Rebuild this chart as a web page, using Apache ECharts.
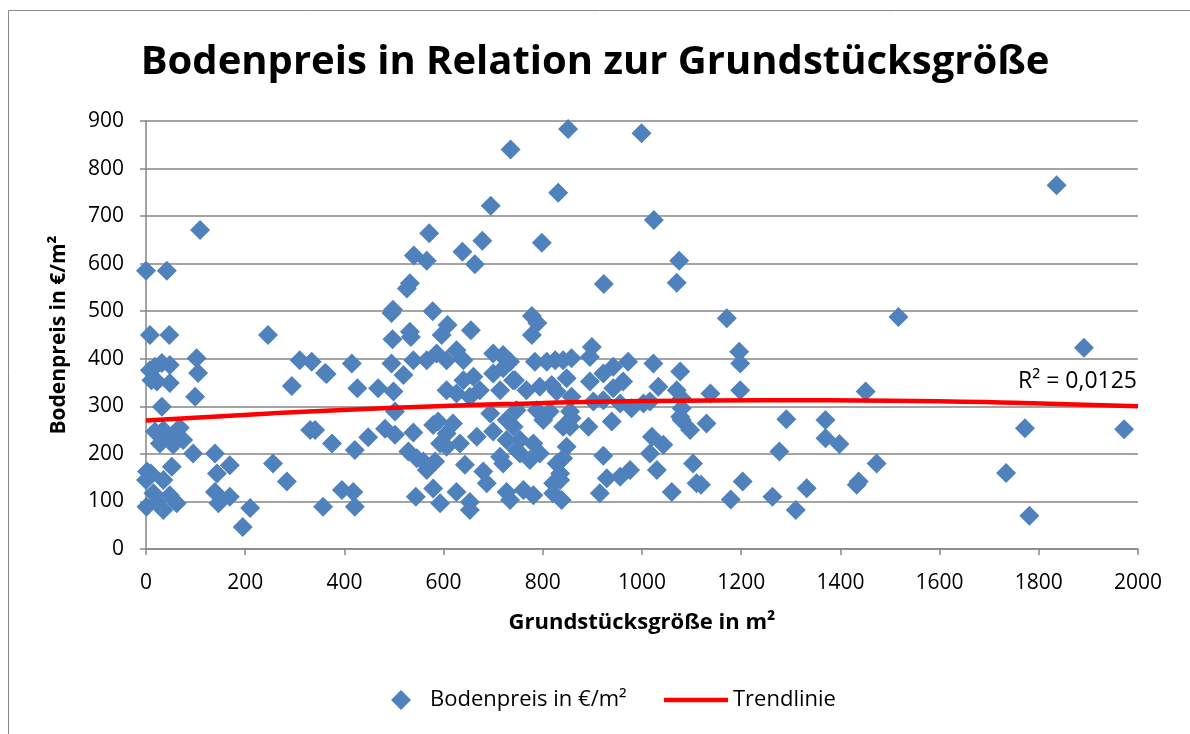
<!DOCTYPE html>
<html><head><meta charset="utf-8">
<script src="https://cdn.jsdelivr.net/npm/echarts@6/dist/echarts.min.js"></script>
<style>html,body{margin:0;padding:0;background:#fff}#c{width:1190px;height:734px}</style>
</head><body><div id="c"></div>
<script>
const TITLE = 'Bodenpreis in Relation zur Grundstücksgröße';
const X_NAME = 'Grundstücksgröße in m²';
const Y_NAME = 'Bodenpreis in €/m²';
const SERIES_NAME = 'Bodenpreis in €/m²';
const TREND_NAME = 'Trendlinie';
const R2_TEXT = 'R² = 0,0125';

const sizes = [
 8,47,246,18,32,48,8,102,105,22,48,11,99,32,310,334,294,361,331,341,375,18,35,68,52,28,55,75,
 95,139,169,143,256,284,0,2,10,52,35,1,22,35,62,48,15,139,146,169,210,195,357,109,0,42,
 735,695,571,678,540,566,638,663,532,526,495,498,578,608,655,532,
 596,497,534,364,415,426,468,499,495,519,539,566,586,606,626,640,606,626,502,589,640,660,673,653,700,727,740,700,714,694,727,747,
 421,448,482,502,539,529,546,566,583,559,579,606,619,593,633,606,643,680,687,667,700,727,714,720,747,727,734,395,418,421,544,579,593,626,653,653,
 851,999,831,1024,798,1075,923,1070,778,789,
 778,720,734,720,784,808,825,841,858,899,895,972,1023,1077,848,744,895,922,942,962,942,1033,1070,767,794,818,828,
 858,902,922,956,979,1003,1016,1080,1077,1097,741,788,801,814,855,858,841,855,892,939,1020,1043,1016,1103,754,781,794,774,754,848,841,828,835,821,835,922,929,956,976,1030,1110,761,781,821,838,915,1060,
 1171,1196,1198,1138,1198,1080,1080,1130,1291,1370,1370,1398,1451,1277,1119,1203,1179,1263,1310,1332,1433,1437,1473,
 1836,1517,1772,1734,1781,1891,1972
];
const prices = [
 450,450,450,383,391,387,376,401,370,352,349,355,320,299,397,394,343,370,250,250,222,247,250,255,236,222,219,229,
 201,201,176,159,180,142,145,163,159,173,145,89,99,82,96,113,117,120,96,110,86,46,89,671,585,585,
 840,722,664,648,617,606,625,599,559,548,496,503,500,471,460,457,
 450,441,446,368,390,338,338,331,390,366,397,397,411,397,418,397,334,327,289,268,355,362,334,320,411,397,355,369,334,285,271,292,
 208,235,253,240,245,205,191,166,184,184,261,243,264,222,222,215,177,163,138,236,247,229,194,180,208,120,103,124,120,89,110,127,96,120,99,82,
 883,874,749,692,644,606,557,560,490,475,
 450,408,394,380,394,394,397,397,401,425,404,394,390,373,359,355,352,369,383,352,338,341,334,334,341,345,331,
 320,310,313,306,296,306,310,317,278,250,257,292,271,289,289,275,257,257,257,268,236,219,201,180,229,222,201,187,201,215,191,180,159,138,145,196,149,152,166,166,138,124,113,117,103,117,120,
 485,415,390,327,334,296,271,264,273,271,233,221,331,205,135,142,104,110,82,128,135,142,180,
 765,488,254,160,70,423,252
];
const trendX = [0,250,500,750,1000,1250,1500,1750,2000];
const trendY = [270,285,297,305.5,311,313,312,307.5,300];
const xTicks = [0,200,400,600,800,1000,1200,1400,1600,1800,2000];
const yTicks = [0,100,200,300,400,500,600,700,800,900];

const FONT = 'Open Sans';
const scatterData = sizes.map((x,i)=>[x,prices[i]]);
const trendData = trendX.map((x,i)=>[x,trendY[i]]);

const chart = echarts.init(document.getElementById('c'), null, {renderer:'canvas'});
chart.setOption({
  backgroundColor:'#fff',
  animation:false,
  title:{text:TITLE,left:'center',top:38,textStyle:{fontFamily:FONT,fontWeight:'bold',fontSize:40,color:'#000'}},
  grid:{left:146,right:52,top:121,bottom:185,containLabel:false},
  graphic:[
    {type:'rect',shape:{x:8.5,y:10.5,width:1190,height:740},style:{fill:'none',stroke:'#888',lineWidth:1},silent:true},
    {type:'text',right:53,top:370,style:{text:R2_TEXT,font:'23px "Open Sans"',fill:'#000'}}
  ],
  legend:[
    {data:[{name:SERIES_NAME,icon:'diamond'}],left:386,top:684,itemWidth:20,itemHeight:20,
     textStyle:{fontFamily:FONT,fontSize:22,color:'#000',padding:[0,0,0,14]}},
    {data:[{name:TREND_NAME,icon:'rect'}],left:659,top:684,itemWidth:64,itemHeight:4.5,
     itemStyle:{color:'#FF0000'},
     textStyle:{fontFamily:FONT,fontSize:22,color:'#000',padding:[0,0,0,0]}}
  ],
  xAxis:{type:'value',min:0,max:2000,interval:200,
    name:X_NAME,nameLocation:'middle',nameGap:63,
    nameTextStyle:{fontFamily:FONT,fontWeight:'bold',fontSize:22,color:'#000'},
    axisLine:{show:true,onZero:false,lineStyle:{color:'#868686',width:1.5}},
    axisTick:{show:true,length:6,inside:false,lineStyle:{color:'#868686',width:1.5}},
    axisLabel:{fontFamily:FONT,fontSize:21,color:'#000',margin:24,formatter:v=>String(v)},
    splitLine:{show:false}},
  yAxis:{type:'value',min:0,max:900,interval:100,
    name:Y_NAME,nameLocation:'middle',nameGap:76,nameRotate:90,
    nameTextStyle:{fontFamily:FONT,fontWeight:'bold',fontSize:21,color:'#000'},
    axisLine:{show:true,lineStyle:{color:'#868686',width:1.5}},
    axisTick:{show:true,length:6,lineStyle:{color:'#868686',width:1.5}},
    axisLabel:{fontFamily:FONT,fontSize:21,color:'#000',margin:22,formatter:v=>String(v)},
    splitLine:{show:true,lineStyle:{color:'#868686',width:1.5}}},
  series:[
    {name:SERIES_NAME,type:'scatter',data:scatterData,symbol:'diamond',symbolSize:20,
     itemStyle:{color:'#4F81BD',opacity:1},z:2},
    {name:TREND_NAME,type:'line',data:trendData,smooth:true,symbol:'none',showSymbol:false,
     lineStyle:{color:'#FF0000',width:4.5},itemStyle:{color:'#FF0000'},z:3}
  ]
});
</script></body></html>
